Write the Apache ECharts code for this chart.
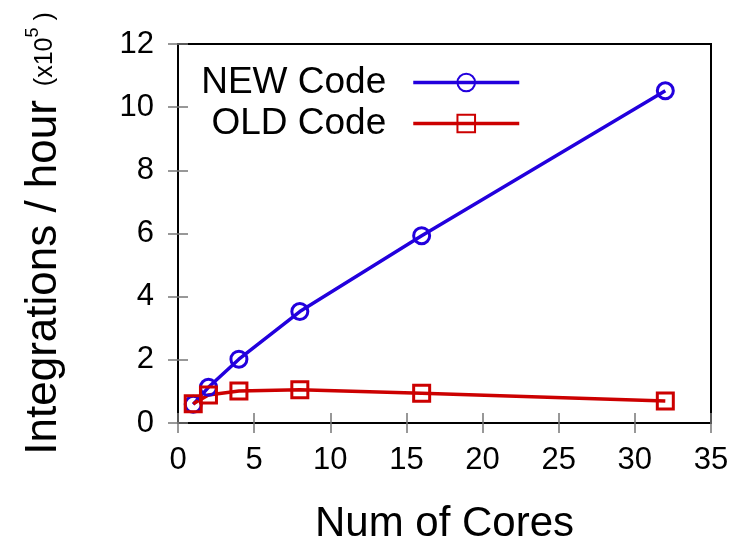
<!DOCTYPE html>
<html><head><meta charset="utf-8">
<script src="https://cdn.jsdelivr.net/npm/echarts@6/dist/echarts.min.js"></script>
<style>html,body{margin:0;padding:0;background:#fff}#c{width:739px;height:541px}</style>
</head><body><div id="c"></div>
<script>
const cores = [1, 2, 4, 8, 16, 32];
const newCode = [0.59, 1.13, 2.02, 3.53, 5.93, 10.52];
const oldCode = [0.61, 0.89, 1.01, 1.05, 0.94, 0.70];
const xTicks = [0, 5, 10, 15, 20, 25, 30, 35];
const yTicks = [0, 2, 4, 6, 8, 10, 12];
const seriesNames = ['NEW Code', 'OLD Code'];

const FONT = 'Liberation Sans';
const BLUE = '#2200dd';
const RED = '#cc0000';
const tickStyle = {show: true, inside: true, length: 10, lineStyle: {color: '#777', width: 1.5}};

const legendBase = {orient: 'vertical', right: 218, align: 'right', padding: 0, itemWidth: 106, itemHeight: 22, itemGap: 20,
  lineStyle: {width: 3.5},
  textStyle: {fontFamily: FONT, fontSize: 37, color: '#000', padding: [0, 22, 0, 0]}};

const chart = echarts.init(document.getElementById('c'), null, {renderer: 'canvas'});
chart.setOption({
  animation: false,
  backgroundColor: '#fff',
  textStyle: {fontFamily: FONT},
  grid: {left: 178, right: 28, top: 44, bottom: 118, outerBoundsMode: 'none', containLabel: false,
         show: true, borderColor: '#000', borderWidth: 2, backgroundColor: 'transparent'},
  legend: [
    Object.assign({}, legendBase, {data: [{name: seriesNames[0]}], top: 64}),
    Object.assign({}, legendBase, {data: [{name: seriesNames[1]}], top: 105})
  ],
  xAxis: [
    {type: 'value', min: xTicks[0], max: xTicks[xTicks.length - 1], interval: 5, position: 'bottom',
     axisLine: {show: true, lineStyle: {color: '#000', width: 2}}, axisTick: tickStyle, splitLine: {show: false},
     axisLabel: {fontFamily: FONT, fontSize: 31, color: '#000', margin: 22},
     name: 'Num of Cores', nameLocation: 'middle', nameGap: 80,
     nameTextStyle: {fontFamily: FONT, fontSize: 42, color: '#000'}},
    {type: 'value', min: xTicks[0], max: xTicks[xTicks.length - 1], interval: 5, position: 'top',
     axisLine: {show: true, lineStyle: {color: '#000', width: 2}}, axisTick: tickStyle, splitLine: {show: false}, axisLabel: {show: false}}
  ],
  yAxis: [
    {type: 'value', min: yTicks[0], max: yTicks[yTicks.length - 1], interval: 2, position: 'left',
     axisLine: {show: true, lineStyle: {color: '#000', width: 2}}, axisTick: tickStyle, splitLine: {show: false},
     axisLabel: {fontFamily: FONT, fontSize: 31, color: '#000', margin: 24},
     name: '{a|Integrations / hour}{b|  (x10}{c|5}{b| )}', nameLocation: 'middle', nameGap: 112, nameRotate: 90,
     nameTextStyle: {fontFamily: FONT, color: '#000',
       rich: {
         a: {fontFamily: FONT, fontSize: 44, color: '#000', verticalAlign: 'bottom', lineHeight: 50},
         b: {fontFamily: FONT, fontSize: 25, color: '#000', verticalAlign: 'bottom', lineHeight: 25, padding: [0, 0, 8, 0]},
         c: {fontFamily: FONT, fontSize: 18, color: '#000', verticalAlign: 'bottom', lineHeight: 18, padding: [0, 0, 24, 0]}
       }}},
    {type: 'value', min: yTicks[0], max: yTicks[yTicks.length - 1], interval: 2, position: 'right',
     axisLine: {show: true, lineStyle: {color: '#000', width: 2}}, axisTick: tickStyle, splitLine: {show: false}, axisLabel: {show: false}}
  ],
  series: [
    {name: seriesNames[0], type: 'line', data: cores.map((c, i) => [c, newCode[i]]),
     symbol: 'circle', symbolSize: 16, showAllSymbol: true,
     lineStyle: {color: BLUE, width: 3.5},
     itemStyle: {color: 'rgba(0,0,0,0)', borderColor: BLUE, borderWidth: 3}},
    {name: seriesNames[1], type: 'line', data: cores.map((c, i) => [c, oldCode[i]]),
     symbol: 'rect', symbolSize: 16, showAllSymbol: true,
     lineStyle: {color: RED, width: 3.5},
     itemStyle: {color: 'rgba(0,0,0,0)', borderColor: RED, borderWidth: 3}}
  ]
});
</script></body></html>
